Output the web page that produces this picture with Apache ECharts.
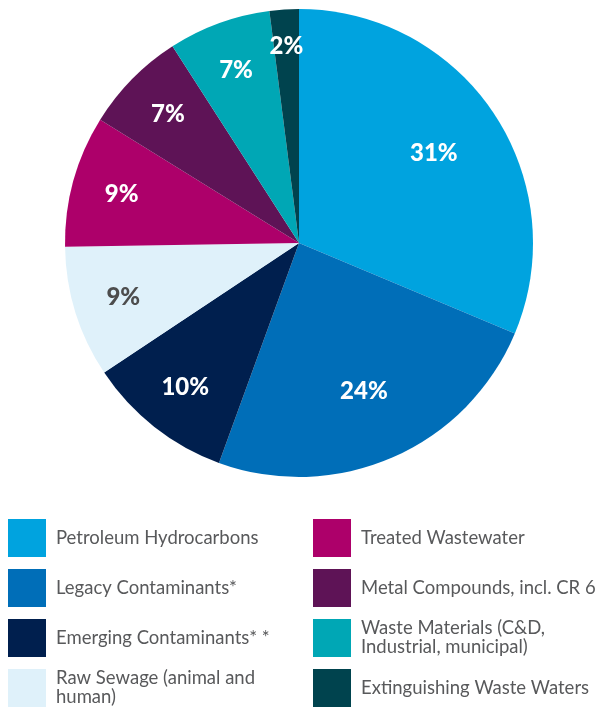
<!DOCTYPE html>
<html>
<head>
<meta charset="utf-8">
<script src="https://cdn.jsdelivr.net/npm/echarts@6/dist/echarts.min.js"></script>
<style>
  html, body { margin: 0; padding: 0; background: #fff; }
  #chartContainer { width: 610px; height: 713px; }
</style>
</head>
<body>
<div id="chartContainer"></div>
<script>
// Categories and shares (percent)
const categories = [
    'Petroleum Hydrocarbons',
    'Legacy Contaminants*',
    'Emerging Contaminants**',
    'Raw Sewage (animal and human)',
    'Treated Wastewater',
    'Metal Compounds, incl. CR 6',
    'Waste Materials (C&D, Industrial, municipal)',
    'Extinguishing Waste Waters'
];
const shares = [31, 24, 10, 9, 9, 7, 7, 2];
const colors = ['#00a3df', '#006eb8', '#001f4e', '#dff1fa', '#ad006a', '#5e1356', '#00a7b5', '#00434e'];

// Legend text with manual wraps
const legendNames = {
    'Raw Sewage (animal and human)': 'Raw Sewage (animal and\nhuman)',
    'Emerging Contaminants**': 'Emerging Contaminants* *',
    'Waste Materials (C&D, Industrial, municipal)': 'Waste Materials (C&D,\nIndustrial, municipal)'
};

const center = [299, 243];

const pieData = categories.map((name, i) => ({
    name: name,
    value: shares[i],
    itemStyle: { color: colors[i] }
}));

// transparent twin pie, only used to place the labels at a given radius
function labelSeries(outer, show) {
    return {
        type: 'pie',
        center: center,
        radius: [0, outer],
        startAngle: 90,
        silent: true,
        legendHoverLink: false,
        itemStyle: { color: 'rgba(0,0,0,0)' },
        label: {
            position: 'inside',
            formatter: '{c}%',
            fontFamily: 'Lato',
            fontWeight: 900,
            fontSize: 24
        },
        labelLine: { show: false },
        emphasis: { disabled: true },
        data: categories.map((name, i) => ({
            name: name,
            value: shares[i],
            label: {
                show: show(shares[i]),
                color: name.startsWith('Raw') ? '#4d4d4d' : '#ffffff'
            }
        }))
    };
}

function legendFor(names, left) {
    return {
        orient: 'vertical',
        left: left,
        top: 519,
        padding: 0,
        itemWidth: 38,
        itemHeight: 38,
        itemGap: 12,
        icon: 'rect',
        data: names,
        formatter: name => legendNames[name] || name,
        textStyle: {
            fontFamily: 'Lato',
            fontSize: 18.5,
            color: '#58595b',
            lineHeight: 19,
            padding: [0, 0, 0, 5]
        }
    };
}

const myChart = echarts.init(document.getElementById('chartContainer'));
myChart.setOption({
    animation: false,
    legend: [
        legendFor(categories.slice(0, 4), 8),
        legendFor(categories.slice(4), 313)
    ],
    series: [
        {
            type: 'pie',
            center: center,
            radius: [0, 234],
            startAngle: 90,
            label: { show: false },
            labelLine: { show: false },
            emphasis: { disabled: true },
            data: pieData
        },
        labelSeries(318, v => v >= 20),
        labelSeries(362, v => v < 20 && v > 2),
        labelSeries(388, v => v <= 2)
    ]
});
</script>
</body>
</html>
